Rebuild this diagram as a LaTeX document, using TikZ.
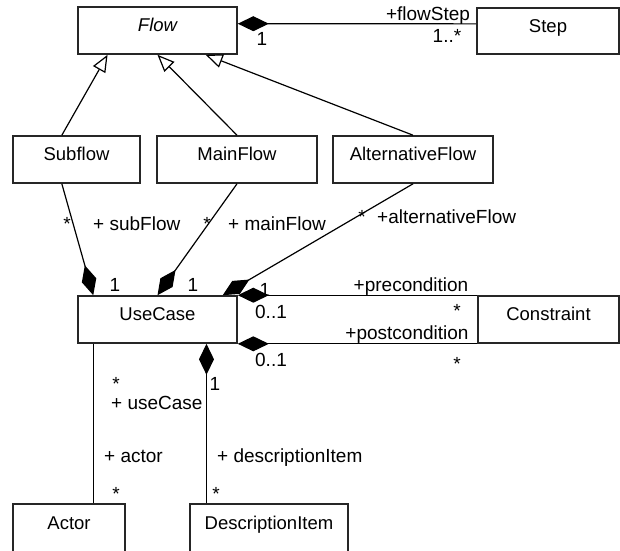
\documentclass[tikz,border=0pt]{standalone}
\usepackage{fontspec}
\setmainfont{Liberation Sans}
\usetikzlibrary{arrows.meta,calc}
\begin{document}
\begin{tikzpicture}[x=1pt,y=-1pt,
  cls/.style={draw=black!85, line width=1.6pt, rectangle, inner sep=0pt,
    text height=13pt, text depth=11pt, minimum height=47pt,
    font=\fontsize{18.5}{20}\selectfont},
  lbl/.style={inner sep=0pt, anchor=base, font=\fontsize{19}{21}\selectfont},
  lblw/.style={inner sep=0pt, anchor=base west, font=\fontsize{19}{21}\selectfont},
  assoc/.style={line width=1.2pt, black},
  comp/.style={assoc, -{Diamond[length=31pt,width=15pt]}},
  gen/.style={assoc, -{Triangle[open,length=17pt,width=14pt,fill=white]}}
]
\useasboundingbox (0,0) rectangle (620,550);
\clip (0,0) rectangle (620,550);

% classes
\node[cls, minimum width=159pt] (flow) at (157.5,30.5) {\itshape Flow};
\node[cls, minimum width=142pt, minimum height=46pt] (step) at (548,31) {Step};
\node[cls, minimum width=127pt] (subflow) at (76.5,159.5) {Subflow};
\node[cls, minimum width=160pt] (mainflow) at (237,159.5) {MainFlow};
\node[cls, minimum width=160pt] (altflow) at (413,159.5) {AlternativeFlow};
\node[cls, minimum width=159pt] (usecase) at (157.5,319.5) {UseCase};
\node[cls, minimum width=141pt] (constraint) at (548.5,319.5) {Constraint};
\node[cls, minimum width=112pt, minimum height=48pt] (actor) at (69,528) {Actor};
\node[cls, minimum width=158pt, minimum height=48pt] (descitem) at (269,528) {DescriptionItem};

% labels
\node[lbl] (l1) at (262,45) {1};
\node[lbl] (l2) at (428,20) {+flowStep};
\node[lbl] (l3) at (447,42) {1..*};
\node[lbl] (l4) at (67,230) {*};
\node[lblw] (l5) at (93,230) {+ subFlow};
\node[lbl] (l6) at (207,230) {*};
\node[lblw] (l7) at (228,230) {+ mainFlow};
\node[lbl] (l8) at (362,223) {*};
\node[lblw] (l9) at (377,223) {+alternativeFlow};
\node[lbl] (l10) at (115,291) {1};
\node[lbl] (l11) at (193,291) {1};
\node[lbl] (l12) at (265,296) {1};
\node[lbl] (l13) at (411,291) {+precondition};
\node[lbl] (l14) at (271,318) {0..1};
\node[lbl] (l15) at (457,317) {*};
\node[lbl] (l16) at (407,339) {+postcondition};
\node[lbl] (l17) at (271,366) {0..1};
\node[lbl] (l18) at (457,370) {*};
\node[lbl] (l19) at (116,390) {*};
\node[lblw] (l20) at (111,409) {+ useCase};
\node[lbl] (l21) at (215,390) {1};
\node[lblw] (l22) at (104,462) {+ actor};
\node[lblw] (l23) at (217,462) {+ descriptionItem};
\node[lbl] (l24) at (116,500) {*};
\node[lbl] (l25) at (216,500) {*};

% anchor points
\coordinate (flowE) at ($(flow.north east)!0.36!(flow.south east)$);
\coordinate (stepW) at ($(step.north west)!0.35!(step.south west)$);
\coordinate (flowS1) at ($(flow.south west)!0.189!(flow.south east)$);
\coordinate (flowS3) at ($(flow.south west)!0.80!(flow.south east)$);
\coordinate (subN) at ($(subflow.north west)!0.386!(subflow.north east)$);
\coordinate (subS) at ($(subflow.south west)!0.386!(subflow.south east)$);
\coordinate (ucN1) at ($(usecase.north west)!0.1!(usecase.north east)$);
\coordinate (ucN3) at ($(usecase.north west)!0.906!(usecase.north east)$);
\coordinate (ucA) at ($(usecase.south west)!0.1!(usecase.south east)$);
\coordinate (ucD) at ($(usecase.south west)!0.805!(usecase.south east)$);

% generalizations
\draw[gen] (subN) -- (flowS1);
\draw[gen] (mainflow.north) -- (flow.south);
\draw[gen] (altflow.north) -- (flowS3);

% compositions
\draw[comp] (stepW) -- (flowE);
\draw[comp] (subS) -- (ucN1);
\draw[comp] (mainflow.south) -- (usecase.north);
\draw[comp] (altflow.south) -- (ucN3);
\draw[comp] (constraint.north west) -- (usecase.north east);
\draw[comp] (constraint.south west) -- (usecase.south east);
\draw[comp] (ucD |- descitem.north) -- (ucD);

% association
\draw[assoc] (ucA) -- (ucA |- actor.north);
\end{tikzpicture}
\end{document}
